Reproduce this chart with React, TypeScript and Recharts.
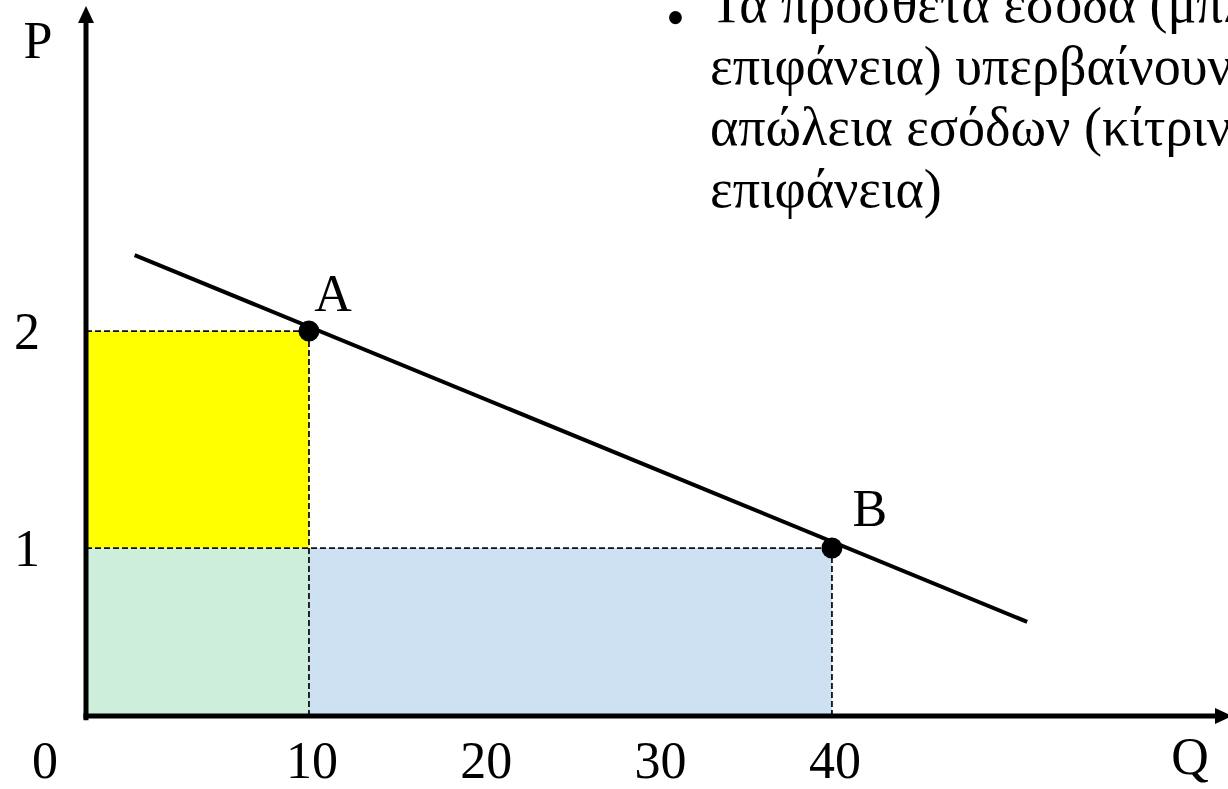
import React from 'react'
import {
  ComposedChart,
  XAxis,
  YAxis,
  Line,
  Scatter,
  ReferenceArea,
  ReferenceLine,
  ReferenceDot,
  LabelList,
} from 'recharts'

const W = 1228
const H = 789
const FONT = "'Liberation Serif', 'Times New Roman', Times, serif"

// the sketch is not drawn to scale near the origin: the axes sit a bit
// left of / below Q=0 / P=0 of the linear scale through A and B
const Q_MIN = -2.79
const Q_MAX = 62.72
const P_MIN = 0.226
const P_MAX = 3.498

const qTicks = [10, 20, 30, 40]
const pTicks = [1, 2]

const demandQ = [0, 51.2]
const demandP = [2.35, 0.66]

const pointNames = ['A', 'B']
const pointQ = [10, 40]
const pointP = [2, 1]

// revenue rectangles: lost (yellow), kept (green), gained (blue)
const areaQ = [
  [Q_MIN, 10],
  [Q_MIN, 10],
  [10, 40],
]
const areaP = [
  [1, 2],
  [P_MIN, 1],
  [P_MIN, 1],
]
const areaColors = ['#ffff00', '#cdeedb', '#cde1f2']

const noteLines = [
  'Τα πρόσθετα έσοδα (μπλε',
  'επιφάνεια) υπερβαίνουν την',
  'απώλεια εσόδων (κίτρινη',
  'επιφάνεια)',
]

const demandData = demandQ.map((q, i) => ({ q, p: demandP[i] }))
const pointData = pointNames.map((name, i) => ({ name, q: pointQ[i], p: pointP[i] }))

const labelNudge: Record<string, [number, number]> = { A: [24, -20], B: [38, -22] }

const XTick = (props: any) => {
  const { x, payload } = props
  return (
    <text x={x + 3} y={778} textAnchor="middle" fontFamily={FONT} fontSize={52} fill="#000">
      {payload.value}
    </text>
  )
}

const YTick = (props: any) => {
  const { y, payload } = props
  return (
    <text x={27} y={y + 18} textAnchor="middle" fontFamily={FONT} fontSize={52} fill="#000">
      {payload.value}
    </text>
  )
}

const Dot = (props: any) => {
  const { cx, cy } = props
  return <circle cx={cx} cy={cy} r={10.5} fill="#000" />
}

const PointLabel = (props: any) => {
  const { x, y, width, height, value } = props
  const cx = x + (width || 0) / 2
  const cy = y + (height || 0) / 2
  const [dx, dy] = labelNudge[value] || [30, -20]
  return (
    <text x={cx + dx} y={cy + dy} textAnchor="middle" fontFamily={FONT} fontSize={52} fill="#000">
      {value}
    </text>
  )
}

const UpArrow = (props: any) => {
  const { cx, cy } = props
  return <polygon points={`${cx},${cy} ${cx - 8},${cy + 17} ${cx + 8},${cy + 17}`} fill="#000" />
}

const RightArrow = (props: any) => {
  const { cx, cy } = props
  return <polygon points={`${cx + 4},${cy} ${cx - 13},${cy - 8} ${cx - 13},${cy + 8}`} fill="#000" />
}

export default function App() {
  return (
    <div style={{ position: 'absolute', left: 0, top: 0, width: W, height: H, background: '#fff', overflow: 'hidden' }}>
      <ComposedChart width={W} height={H} margin={{ top: 6, right: 0, bottom: 0, left: 0 }}>
        <XAxis
          type="number"
          dataKey="q"
          domain={[Q_MIN, Q_MAX]}
          ticks={qTicks}
          interval={0}
          allowDataOverflow
          axisLine={false}
          tickLine={false}
          height={73}
          tick={<XTick />}
        />
        <YAxis
          type="number"
          dataKey="p"
          domain={[P_MIN, P_MAX]}
          ticks={pTicks}
          interval={0}
          allowDataOverflow
          axisLine={false}
          tickLine={false}
          width={86}
          tick={<YTick />}
        />

        {areaColors.map((c, i) => (
          <ReferenceArea
            key={'area' + i}
            x1={areaQ[i][0]}
            x2={areaQ[i][1]}
            y1={areaP[i][0]}
            y2={areaP[i][1]}
            fill={c}
            fillOpacity={1}
            stroke="none"
          />
        ))}

        {pointData.map((d) => (
          <ReferenceLine
            key={'h' + d.name}
            segment={[
              { x: Q_MIN, y: d.p },
              { x: d.q, y: d.p },
            ]}
            stroke="#111"
            strokeWidth={1.8}
            strokeDasharray="6 3"
          />
        ))}
        {pointData.map((d) => (
          <ReferenceLine
            key={'v' + d.name}
            segment={[
              { x: d.q, y: P_MIN },
              { x: d.q, y: d.p },
            ]}
            stroke="#111"
            strokeWidth={1.8}
            strokeDasharray="6 3"
          />
        ))}

        <ReferenceLine
          segment={[
            { x: Q_MIN, y: P_MIN - 0.02 },
            { x: Q_MIN, y: P_MAX - 0.06 },
          ]}
          stroke="#000"
          strokeWidth={5}
          ifOverflow="visible"
        />
        <ReferenceLine
          segment={[
            { x: Q_MIN - 0.15, y: P_MIN },
            { x: Q_MAX - 0.6, y: P_MIN },
          ]}
          stroke="#000"
          strokeWidth={5}
          ifOverflow="visible"
        />
        <ReferenceDot x={Q_MIN} y={P_MAX} shape={<UpArrow />} ifOverflow="visible" />
        <ReferenceDot x={Q_MAX} y={P_MIN} shape={<RightArrow />} ifOverflow="visible" />

        <Line
          data={demandData}
          dataKey="p"
          type="linear"
          stroke="#000"
          strokeWidth={4}
          dot={false}
          activeDot={false}
          isAnimationActive={false}
        />
        <Scatter data={pointData} dataKey="p" shape={<Dot />} isAnimationActive={false}>
          <LabelList dataKey="name" content={<PointLabel />} />
        </Scatter>
      </ComposedChart>

      <svg
        width={W}
        height={H}
        style={{ position: 'absolute', left: 0, top: 0, pointerEvents: 'none' }}
        fontFamily={FONT}
        fontSize={52}
      >
        <text x={38} y={58} textAnchor="middle">P</text>
        <text x={1190} y={774} textAnchor="middle">Q</text>
        <text x={45} y={778} textAnchor="middle">0</text>
        <text x={666} y={36} fontSize={54}>•</text>
        {noteLines.map((t, i) => (
          <text key={i} x={710} y={22 + i * 61.5} fontSize={54}>
            {t}
          </text>
        ))}
      </svg>
    </div>
  )
}
